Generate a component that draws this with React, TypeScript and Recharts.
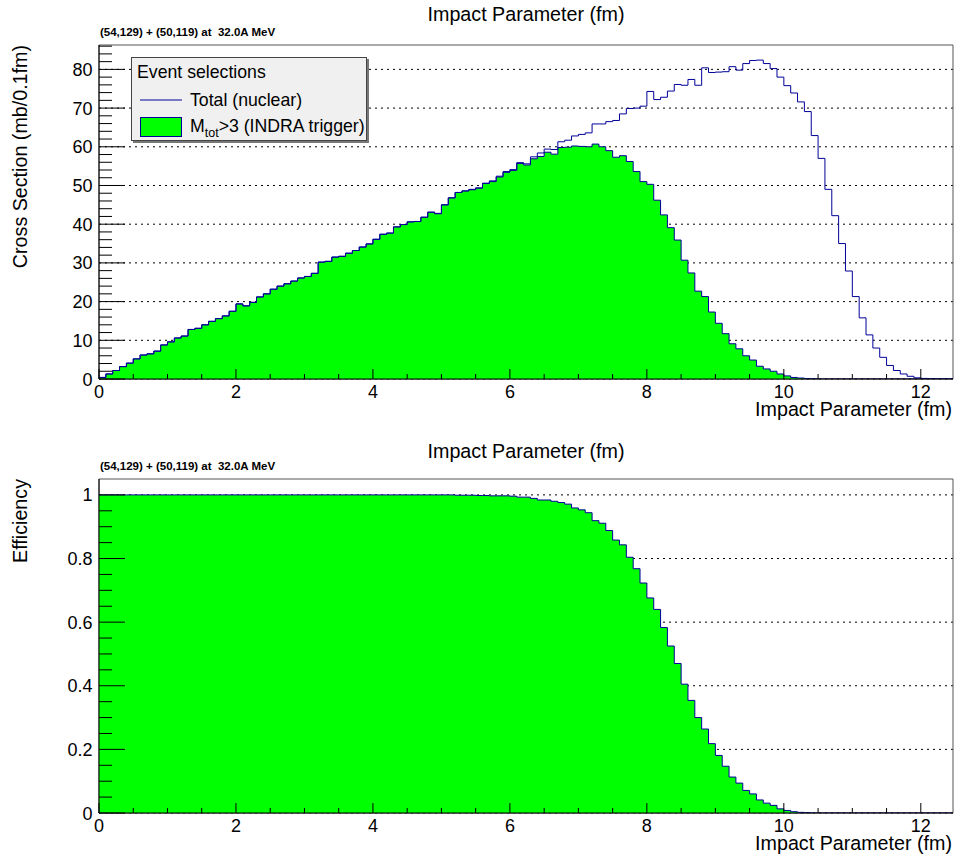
import React from 'react';
import {
  ComposedChart,
  Area,
  Line,
  XAxis,
  YAxis,
  CartesianGrid,
  ReferenceArea,
  Legend,
} from 'recharts';

// ---------------- data ----------------
const BIN_WIDTH = 0.1; // fm
const X_MAX = 12.47; // fm, right edge of the frame

// Cross section, M_tot > 3 (INDRA trigger), mb / 0.1 fm, bins of 0.1 fm starting at 0
const TRIGGER_XS = [
  0.4, 1.3, 2.2, 3.2, 4.1, 5.2, 6.2, 6.5, 7.2, 8.8,
  9.6, 10.6, 11.1, 12.8, 13.1, 14.0, 14.9, 15.6, 16.3, 17.5,
  19.4, 18.9, 19.8, 21.2, 22.0, 23.2, 24.0, 24.6, 25.3, 26.1,
  26.5, 27.3, 30.2, 30.4, 31.5, 31.7, 32.5, 33.2, 34.1, 34.9,
  36.1, 37.4, 37.7, 39.3, 39.9, 40.6, 40.7, 41.8, 43.1, 42.7,
  45.0, 46.8, 48.2, 48.6, 48.9, 49.3, 50.5, 51.0, 52.2, 53.4,
  53.9, 55.7, 55.3, 56.9, 57.5, 58.6, 58.1, 59.8, 59.9, 60.2,
  60.1, 60.0, 60.7, 60.0, 59.0, 57.3, 57.7, 56.2, 53.6, 51.0,
  50.3, 46.2, 42.4, 39.1, 35.9, 30.7, 27.4, 22.7, 21.3, 17.3,
  14.4, 11.7, 9.1, 7.8, 6.0, 4.9, 3.3, 2.6, 2.0, 1.3,
  0.8, 0.4, 0.25, 0.1, 0.05, 0, 0, 0, 0, 0,
  0, 0, 0, 0, 0, 0, 0, 0, 0, 0,
  0, 0, 0, 0, 0,
];

// Cross section, total (nuclear)
const TOTAL_XS = [
  0.4, 1.3, 2.2, 3.2, 4.1, 5.2, 6.2, 6.5, 7.2, 8.8,
  9.6, 10.6, 11.1, 12.8, 13.1, 14.0, 14.9, 15.6, 16.3, 17.5,
  19.4, 18.9, 19.8, 21.2, 22.0, 23.2, 24.0, 24.6, 25.3, 26.1,
  26.5, 27.3, 30.2, 30.4, 31.5, 31.7, 32.5, 33.2, 34.1, 34.9,
  36.1, 37.4, 37.7, 39.3, 39.9, 40.6, 40.7, 41.8, 43.1, 42.8,
  45.0, 46.8, 48.2, 48.6, 49.0, 49.4, 50.6, 51.2, 52.4, 53.6,
  54.1, 55.9, 55.6, 57.4, 58.4, 59.4, 59.3, 61.3, 61.7, 62.8,
  63.2, 63.6, 65.9, 65.9, 66.5, 66.8, 68.5, 69.9, 70.0, 70.5,
  74.3, 72.2, 72.8, 74.4, 76.1, 75.9, 77.4, 75.9, 80.4, 79.2,
  79.3, 79.4, 80.7, 79.8, 81.5, 82.3, 82.4, 81.5, 80.2, 78.0,
  75.8, 73.9, 71.6, 69.1, 62.9, 57.0, 49.0, 42.2, 35.0, 27.9,
  21.3, 15.8, 11.4, 8.0, 5.6, 3.5, 2.2, 1.3, 0.7, 0.3,
  0.15, 0.08, 0.04, 0.02, 0.01,
];

// Trigger efficiency
const EFFICIENCY = [
  1, 1, 1, 1, 1, 1, 1, 1, 1, 1,
  1, 1, 1, 1, 1, 1, 1, 1, 1, 1,
  1, 1, 1, 1, 1, 1, 1, 1, 1, 1,
  1, 1, 1, 1, 1, 1, 1, 1, 1, 1,
  1, 1, 1, 1, 1, 1, 1, 1, 1, 1,
  1, 1, 0.999, 0.999, 0.999, 0.998, 0.998, 0.997, 0.997, 0.997,
  0.996, 0.993, 0.993, 0.989, 0.984, 0.984, 0.98, 0.976, 0.971, 0.959,
  0.953, 0.944, 0.919, 0.911, 0.888, 0.858, 0.843, 0.804, 0.768, 0.723,
  0.676, 0.64, 0.583, 0.525, 0.47, 0.405, 0.354, 0.3, 0.264, 0.218,
  0.181, 0.147, 0.113, 0.094, 0.071, 0.06, 0.041, 0.031, 0.024, 0.013,
  0.008, 0.004, 0.002, 0.001, 0, 0, 0, 0, 0, 0,
  0, 0, 0, 0, 0, 0, 0, 0, 0, 0,
  0, 0, 0, 0, 0,
];

// ---------------- ticks & texts ----------------
const X_MAJOR_TICKS = [0, 2, 4, 6, 8, 10, 12];
const X_ALL_TICKS = [
  0, 0.5, 1, 1.5, 2, 2.5, 3, 3.5, 4, 4.5, 5, 5.5, 6, 6.5, 7, 7.5, 8, 8.5, 9, 9.5,
  10, 10.5, 11, 11.5, 12,
];
const XS_MAJOR_TICKS = [0, 10, 20, 30, 40, 50, 60, 70, 80];
const XS_ALL_TICKS = [
  0, 2, 4, 6, 8, 10, 12, 14, 16, 18, 20, 22, 24, 26, 28, 30, 32, 34, 36, 38, 40, 42,
  44, 46, 48, 50, 52, 54, 56, 58, 60, 62, 64, 66, 68, 70, 72, 74, 76, 78, 80, 82, 84, 86,
];
const EFF_MAJOR_TICKS = [0, 0.2, 0.4, 0.6, 0.8, 1];
const EFF_ALL_TICKS = [
  0, 0.05, 0.1, 0.15, 0.2, 0.25, 0.3, 0.35, 0.4, 0.45, 0.5, 0.55, 0.6, 0.65, 0.7,
  0.75, 0.8, 0.85, 0.9, 0.95, 1,
];
const XS_MAX = 86.3;
const EFF_MAX = 1.05;

const TITLE = 'Impact Parameter (fm)';
const SUBTITLE = '(54,129) + (50,119) at  32.0A MeV';
const X_TITLE = 'Impact Parameter (fm)';
const XS_Y_TITLE = 'Cross Section (mb/0.1fm)';
const EFF_Y_TITLE = 'Efficiency';
const LEGEND_HEADER = 'Event selections';
const LEGEND_TOTAL = 'Total (nuclear)';

// ---------------- table built from the arrays ----------------
const LAST = TOTAL_XS.length - 1;
const rows = TOTAL_XS.map((t, i) => ({
  b: Math.round(i * BIN_WIDTH * 1000) / 1000,
  total: t,
  trigger: TRIGGER_XS[i],
  eff: EFFICIENCY[i],
}));
const DATA = [
  ...rows,
  { b: X_MAX, total: TOTAL_XS[LAST], trigger: TRIGGER_XS[LAST], eff: EFFICIENCY[LAST] },
];

// ---------------- style ----------------
const FONT = "'Liberation Sans', Arial, Helvetica, sans-serif";
const GREEN = '#00ff00';
const BLUE = '#000099';
const W = 954;
const H = 423;
const MARGIN = { top: 45, right: 1, bottom: 14, left: 39 };
const Y_GAP = 6;
const X_GAP = 4;
const TICK_FONT = 18;

const isIn = (arr: number[], v: number) => arr.some((m) => Math.abs(m - v) < 1e-6);

function makeYTick(majors: number[]) {
  return (props: any) => {
    const { x, y, payload } = props;
    const v = payload.value;
    const major = isIn(majors, v);
    const ax = x + Y_GAP;
    return (
      <g>
        <line x1={ax} x2={ax + (major ? 26 : 13)} y1={y} y2={y} stroke="#000" strokeWidth={1} />
        {major ? (
          <text x={x - 0.5} y={y + 6.5} textAnchor="end" fontSize={TICK_FONT} fontFamily={FONT} fill="#000">
            {String(v)}
          </text>
        ) : null}
      </g>
    );
  };
}

const XTick = (props: any) => {
  const { x, y, payload } = props;
  const v = payload.value;
  const major = isIn(X_MAJOR_TICKS, v);
  const ay = y - X_GAP;
  return (
    <g>
      <line x1={x} x2={x} y1={ay} y2={ay - (major ? 10 : 5)} stroke="#000" strokeWidth={1} />
      {major ? (
        <text x={x} y={ay + 18.5} textAnchor="middle" fontSize={TICK_FONT} fontFamily={FONT} fill="#000">
          {String(v)}
        </text>
      ) : null}
    </g>
  );
};

const LegendBox = () => (
  <div
    style={{
      width: 236,
      height: 84,
      boxSizing: 'border-box',
      background: '#f0f0f0',
      border: '1px solid #444',
      boxShadow: '2px 2px 0 #777',
    }}
  >
    <svg width={234} height={82} style={{ display: 'block' }}>
      <text x={5} y={20} fontSize={17.7} fontFamily={FONT} fill="#000">
        {LEGEND_HEADER}
      </text>
      <line x1={8} x2={50} y1={42} y2={42} stroke={BLUE} strokeWidth={1} />
      <text x={58} y={48} fontSize={17.7} fontFamily={FONT} fill="#000">
        {LEGEND_TOTAL}
      </text>
      <rect x={8.5} y={59.5} width={41} height={19} fill={GREEN} stroke={BLUE} strokeWidth={1} />
      <text x={58} y={74} fontSize={17.7} fontFamily={FONT} fill="#000">
        M
        <tspan fontSize={12.5} dy={5}>
          tot
        </tspan>
        <tspan dy={-5}>{'>3 (INDRA trigger)'}</tspan>
      </text>
    </svg>
  </div>
);

const PanelTexts = ({ yTitle, titleY }: { yTitle: string; titleY: number }) => (
  <svg
    width={W}
    height={H}
    style={{ position: 'absolute', left: 0, top: 0, pointerEvents: 'none' }}
  >
    <text x={526} y={titleY} textAnchor="middle" fontSize={19.7} fontFamily={FONT} fill="#000">
      {TITLE}
    </text>
    <text
      x={100}
      y={36}
      fontSize={11.5}
      fontWeight="bold"
      fontFamily={FONT}
      fill="#000"
      style={{ whiteSpace: 'pre' }}
    >
      {SUBTITLE}
    </text>
    <text x={952} y={416} textAnchor="end" fontSize={19.7} fontFamily={FONT} fill="#000">
      {X_TITLE}
    </text>
    <text
      x={0}
      y={0}
      transform={`translate(27, 45) rotate(-90)`}
      textAnchor="end"
      fontSize={19.7}
      fontFamily={FONT}
      fill="#000"
    >
      {yTitle}
    </text>
  </svg>
);

const CrossSectionPanel = () => (
  <div style={{ position: 'absolute', left: 0, top: 0, width: W, height: H }}>
    <ComposedChart width={W} height={H} data={DATA} margin={MARGIN}>
      <CartesianGrid
        vertical={false}
        horizontalValues={XS_MAJOR_TICKS}
        stroke="#000"
        strokeDasharray="2 4"
      />
      <ReferenceArea x1={0} x2={X_MAX} y1={0} y2={XS_MAX} fill="none" stroke="#555" strokeWidth={1} />
      <Area
        type="stepAfter"
        dataKey="trigger"
        fill={GREEN}
        fillOpacity={1}
        stroke={BLUE}
        strokeWidth={1}
        dot={false}
        activeDot={false}
        isAnimationActive={false}
      />
      <Line
        type="stepAfter"
        dataKey="total"
        stroke={BLUE}
        strokeWidth={1}
        dot={false}
        activeDot={false}
        isAnimationActive={false}
      />
      <XAxis
        dataKey="b"
        type="number"
        domain={[0, X_MAX]}
        allowDataOverflow
        ticks={X_ALL_TICKS}
        interval={0}
        tickLine={false}
        tickSize={0}
        tickMargin={X_GAP}
        tick={XTick}
        axisLine={{ stroke: '#000' }}
        height={30}
      />
      <YAxis
        type="number"
        domain={[0, XS_MAX]}
        allowDataOverflow
        ticks={XS_ALL_TICKS}
        interval={0}
        tickLine={false}
        tickSize={0}
        tickMargin={Y_GAP}
        tick={makeYTick(XS_MAJOR_TICKS)}
        axisLine={{ stroke: '#000' }}
        width={60}
      />
      <Legend
        layout="vertical"
        align="center"
        verticalAlign="middle"
        content={() => <LegendBox />}
        wrapperStyle={{ left: 131, top: 57, width: 236, height: 84 }}
      />
    </ComposedChart>
    <PanelTexts yTitle={XS_Y_TITLE} titleY={21} />
  </div>
);

const EfficiencyPanel = () => (
  <div style={{ position: 'absolute', left: 0, top: 434, width: W, height: H }}>
    <ComposedChart width={W} height={H} data={DATA} margin={MARGIN}>
      <CartesianGrid
        vertical={false}
        horizontalValues={EFF_MAJOR_TICKS}
        stroke="#000"
        strokeDasharray="2 4"
      />
      <ReferenceArea x1={0} x2={X_MAX} y1={0} y2={EFF_MAX} fill="none" stroke="#555" strokeWidth={1} />
      <Area
        type="stepAfter"
        dataKey="eff"
        fill={GREEN}
        fillOpacity={1}
        stroke={BLUE}
        strokeWidth={1}
        dot={false}
        activeDot={false}
        isAnimationActive={false}
      />
      <XAxis
        dataKey="b"
        type="number"
        domain={[0, X_MAX]}
        allowDataOverflow
        ticks={X_ALL_TICKS}
        interval={0}
        tickLine={false}
        tickSize={0}
        tickMargin={X_GAP}
        tick={XTick}
        axisLine={{ stroke: '#000' }}
        height={30}
      />
      <YAxis
        type="number"
        domain={[0, EFF_MAX]}
        allowDataOverflow
        ticks={EFF_ALL_TICKS}
        interval={0}
        tickLine={false}
        tickSize={0}
        tickMargin={Y_GAP}
        tick={makeYTick(EFF_MAJOR_TICKS)}
        axisLine={{ stroke: '#000' }}
        width={60}
      />
    </ComposedChart>
    <PanelTexts yTitle={EFF_Y_TITLE} titleY={24} />
  </div>
);

export default function App() {
  return (
    <div
      style={{
        position: 'absolute',
        left: 0,
        top: 0,
        width: W,
        height: 857,
        background: '#fff',
        fontFamily: FONT,
      }}
    >
      <CrossSectionPanel />
      <EfficiencyPanel />
    </div>
  );
}
